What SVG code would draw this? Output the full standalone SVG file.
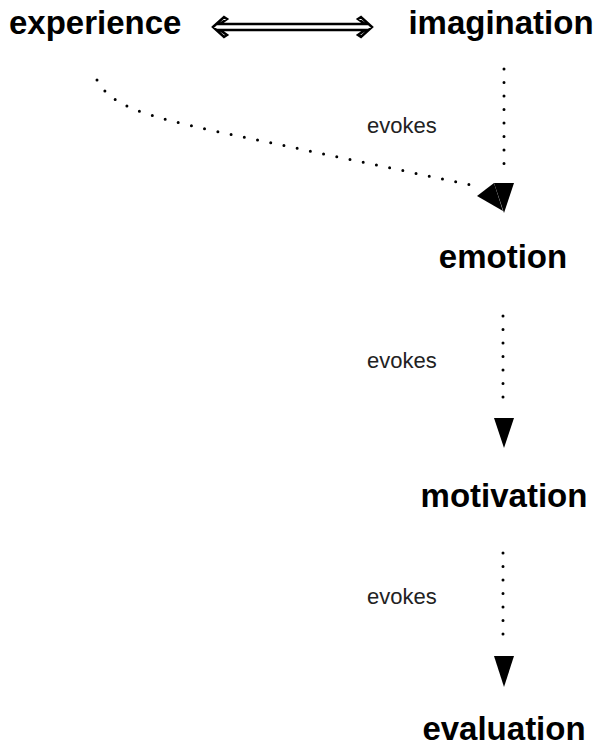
<svg xmlns="http://www.w3.org/2000/svg" width="599" height="748" viewBox="0 0 599 748">
<defs>
<style>
.node{font-family:"Liberation Sans",Arial,sans-serif;font-weight:bold;font-size:33px;fill:#000}
.lbl{font-family:"Liberation Sans",Arial,sans-serif;font-size:22px;fill:#222}
.dot{fill:none;stroke:#000;stroke-width:3;stroke-linecap:round;stroke-dasharray:0 13.5}
.head{fill:#000}
</style>
</defs>
<rect width="599" height="748" fill="#fff"/>
<g id="experience"><text class="node" x="9" y="34">experience</text></g>
<g id="imagination"><text class="node" x="501" y="34" text-anchor="middle">imagination</text></g>
<g id="emotion"><text class="node" x="503" y="268" text-anchor="middle">emotion</text></g>
<g id="motivation"><text class="node" x="504" y="507" text-anchor="middle">motivation</text></g>
<g id="evaluation"><text class="node" x="504" y="740" text-anchor="middle">evaluation</text></g>
<g id="connectors">
<path d="M213,27 L224,17 L227,19 L220,24 L365,24 L358,19 L361,17 L372,27 L361,37 L358,35 L365,30 L220,30 L227,35 L224,37 Z" fill="#fff" stroke="#000" stroke-width="2.5" stroke-linejoin="miter"/>
<path class="dot" d="M97,80 C112,108 150,116 210,130 L476,186"/>
<polygon class="head" points="477,196 494,183 503,211"/>
<path class="dot" d="M504,69 L504,170"/>
<polygon class="head" points="494,183 514,183 504,213"/>
<text class="lbl" x="367" y="133">evokes</text>
<path class="dot" d="M503,316 L503,408"/>
<polygon class="head" points="494,418 514,418 504,448"/>
<text class="lbl" x="367" y="368">evokes</text>
<path class="dot" d="M503,553 L503,644"/>
<polygon class="head" points="494,656 514,656 504,687"/>
<text class="lbl" x="367" y="604">evokes</text>
</g>
</svg>
